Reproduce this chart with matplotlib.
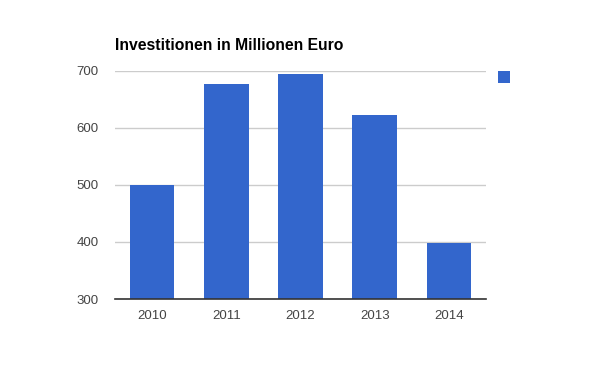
import matplotlib
matplotlib.use("Agg")
import matplotlib.pyplot as plt
from matplotlib.patches import Rectangle

years = ["2010", "2011", "2012", "2013", "2014"]
values = [500, 678, 695, 623, 399]
yticks = [300, 400, 500, 600, 700]
title = "Investitionen in Millionen Euro"

W, H = 600, 371
fig = plt.figure(figsize=(W / 100, H / 100), dpi=100)
plt.rcParams['font.family'] = ['Liberation Sans', 'DejaVu Sans']
ax = fig.add_axes([115 / W, 1 - 299 / H, (486 - 115) / W, (299 - 71) / H])

color = "#3366cc"
x = range(len(years))
ax.bar(x, values, width=0.6, color=color, zorder=3, bottom=0)
ax.set_xlim(-0.5, len(years) - 0.5)
ax.set_ylim(300, 700)
ax.set_yticks(yticks)
ax.set_xticks(list(x))
ax.set_xticklabels(years)
ax.grid(axis="y", color="#cccccc", linewidth=1, zorder=0)
for s in ["top", "right", "left"]:
    ax.spines[s].set_visible(False)
ax.spines["bottom"].set_color("#333333")
ax.spines["bottom"].set_linewidth(1.2)
ax.spines["bottom"].set_zorder(4)
ax.tick_params(axis="both", length=0, labelsize=9.5, labelcolor="#444444")
ax.tick_params(axis="y", pad=12)
ax.tick_params(axis="x", pad=8)

fig.text(115 / W, 1 - 50 / H, title, fontsize=11.3, fontweight="bold",
         ha="left", va="baseline", color="#000000")

fig.patches.append(Rectangle((498 / W, 1 - 83 / H), 12 / W, 12 / H,
                             transform=fig.transFigure, facecolor=color,
                             edgecolor="none"))

fig.savefig("out.png", dpi=100)
